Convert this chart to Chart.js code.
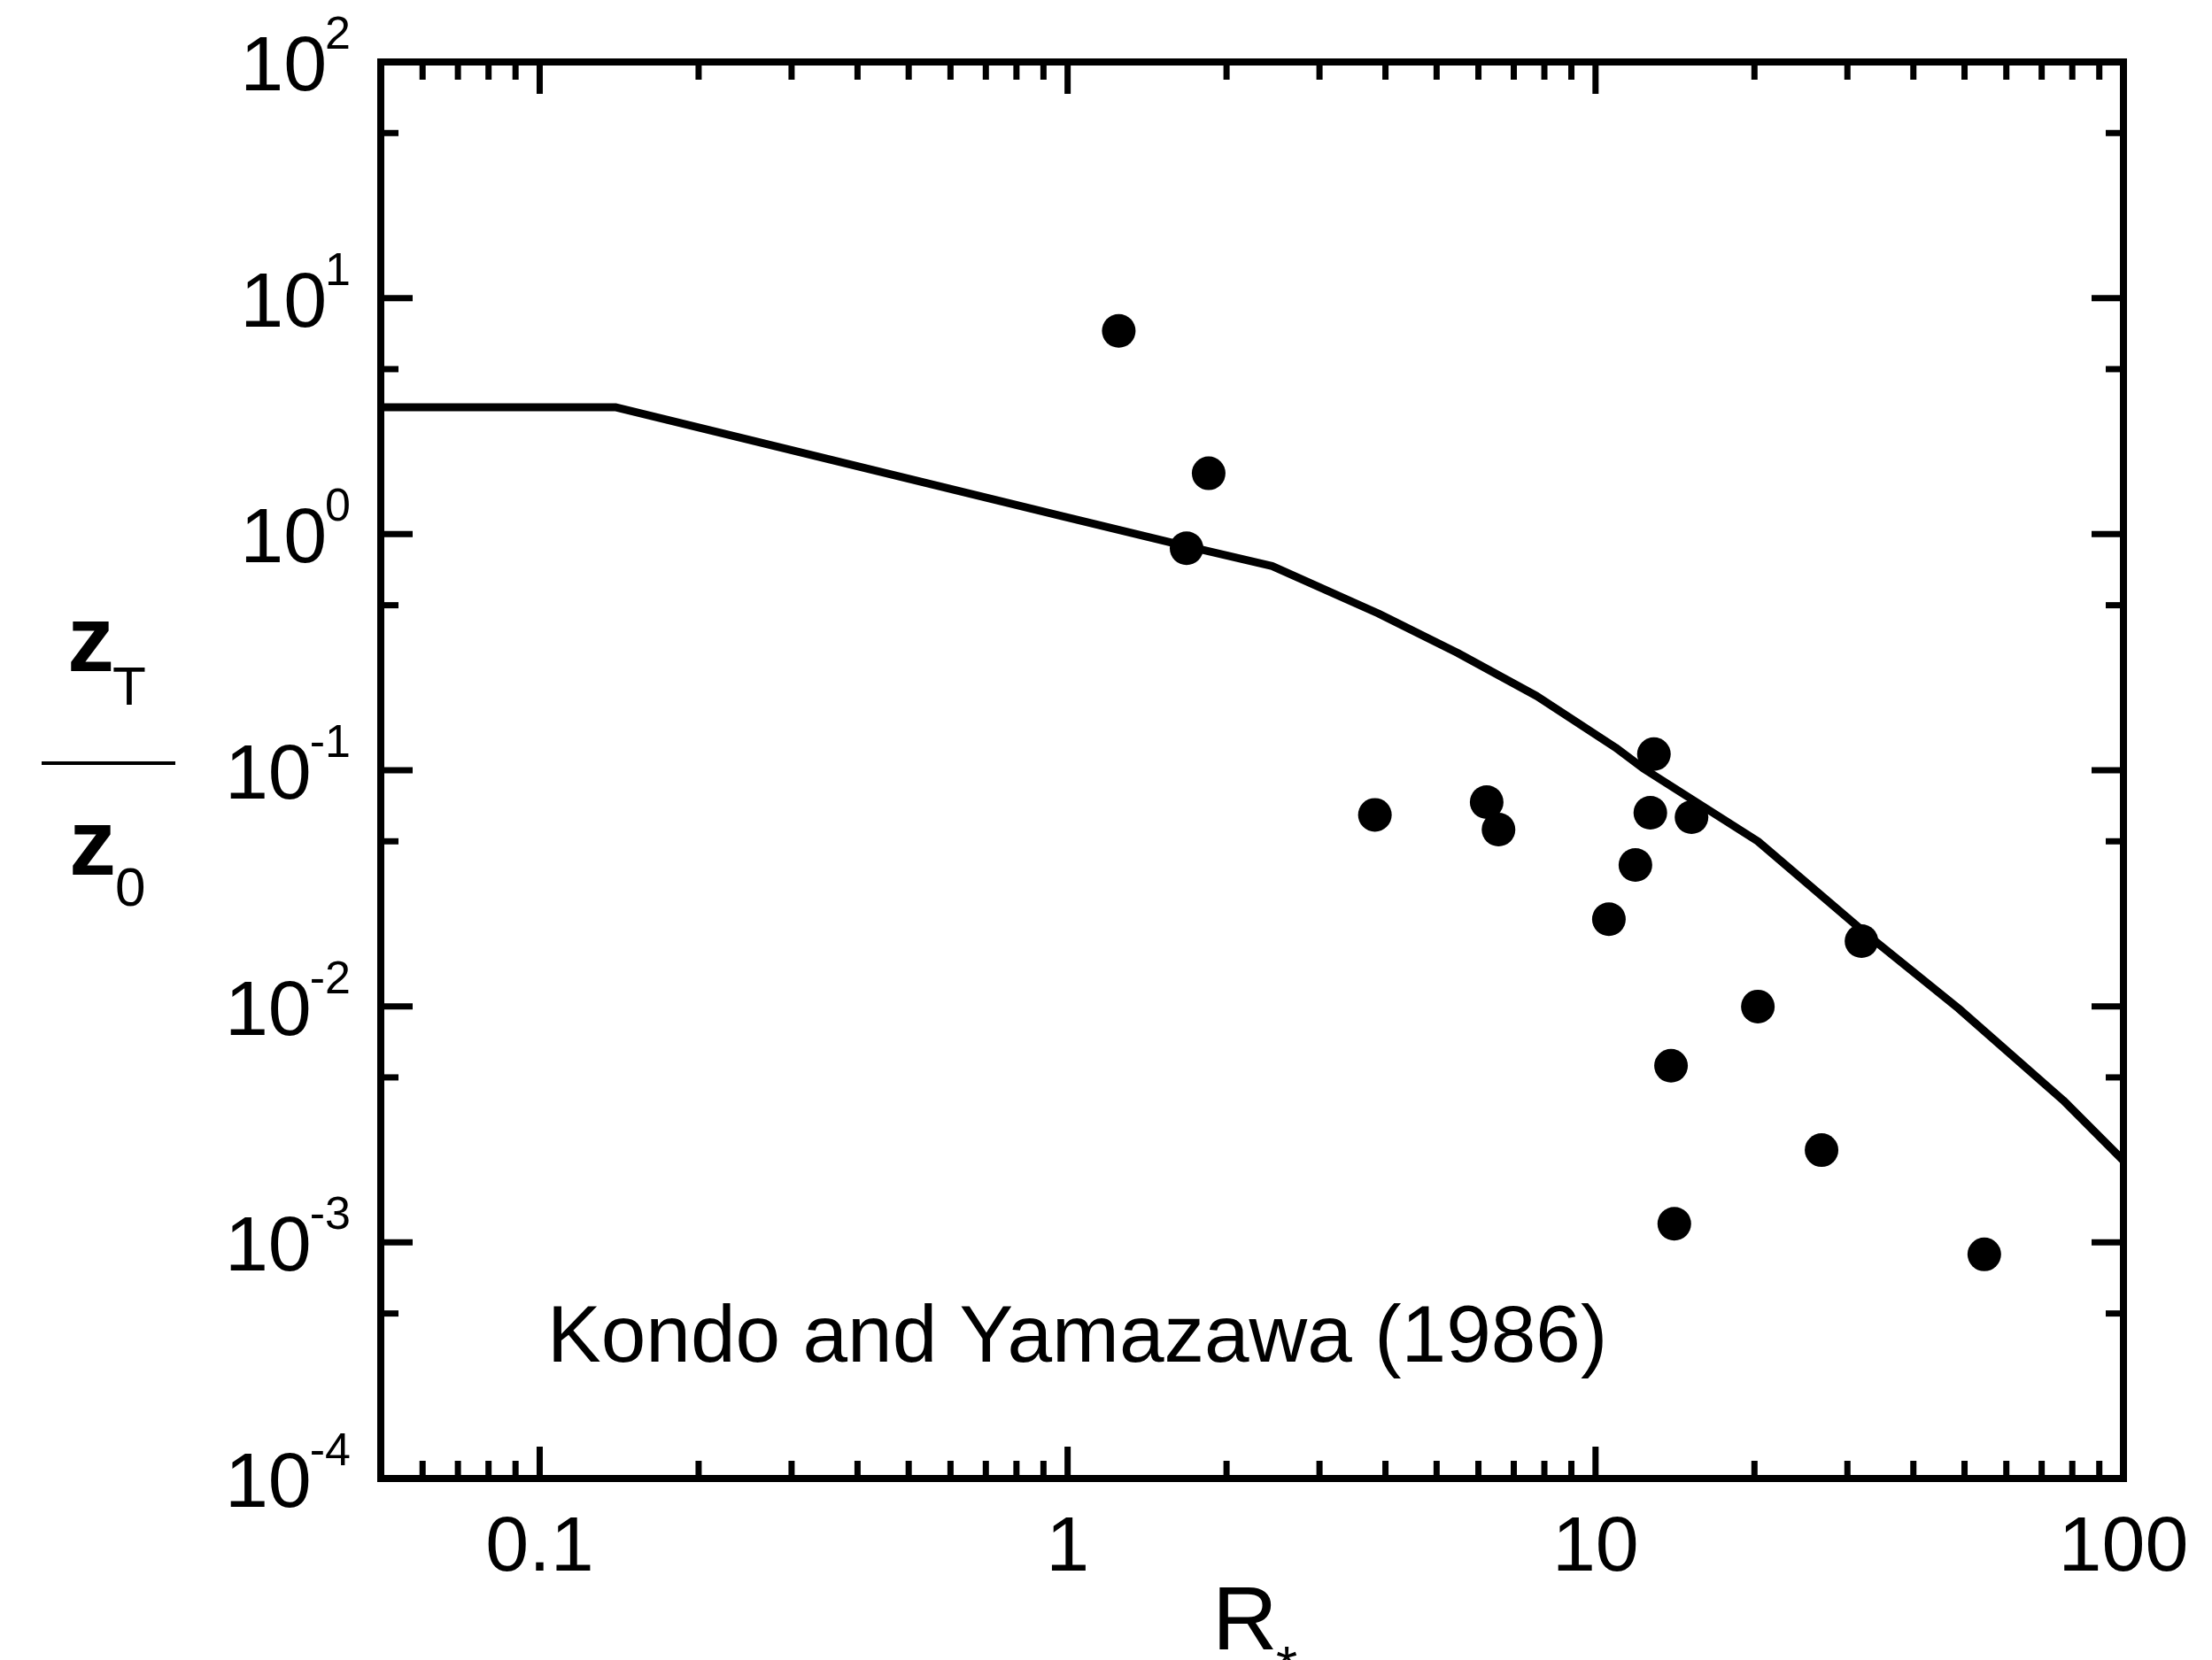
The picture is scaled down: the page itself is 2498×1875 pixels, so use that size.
<!DOCTYPE html>
<html>
<head>
<meta charset="utf-8">
<title>zT/z0 versus R*</title>
<script src="https://cdn.jsdelivr.net/npm/chart.js@4"></script>
<style>
  html, body { margin: 0; padding: 0; background: #fff; }
  #wrap { position: relative; width: 2498px; height: 1875px; }
</style>
</head>
<body>
<div id="wrap"><canvas id="chart"></canvas></div>
<script>
// model curve (Kondo and Yamazawa 1986)
const curveR = [0.05, 0.139, 0.978, 1.56, 2.44, 3.88, 5.48, 7.74, 10.9, 12.3, 20.3, 32.9, 48.7, 76.9, 100];
const curveZ = [3.45, 3.45, 1.19, 0.924, 0.733, 0.461, 0.314, 0.206, 0.125, 0.102, 0.050, 0.0199, 0.0098, 0.0040, 0.00222];

// observations
const obsR = [1.25, 1.85, 1.68, 3.82, 6.22, 6.55, 12.9, 12.7, 15.2, 11.9, 10.6, 31.9, 20.3, 13.9, 26.8, 14.1, 54.5];
const obsZ = [7.26, 1.81, 0.872, 0.0647, 0.0733, 0.0561, 0.117, 0.0661, 0.0633, 0.0397, 0.0234, 0.0189, 0.00998, 0.0056, 0.00246, 0.00120, 0.00089];

// axes
const xMin = 0.05, xMax = 100;
const yMin = 1e-4, yMax = 1e2;
const xTickValues = [0.1, 1, 10, 100];
const xTickLabels = ['0.1', '1', '10', '100'];
const yTickExponents = [2, 1, 0, -1, -2, -3, -4];
const yTickLabels = ['2', '1', '0', '-1', '-2', '-3', '-4'];
const annotation = 'Kondo and Yamazawa (1986)';

const FONT = '"Liberation Sans", Arial, Helvetica, sans-serif';

function toPoints(xs, ys) {
    return xs.map((v, i) => ({ x: v, y: ys[i] }));
}

const frameAndLabels = {
    id: 'frameAndLabels',
    afterDraw(chart) {
        const { ctx, chartArea: a, scales: { x, y } } = chart;
        ctx.save();
        ctx.strokeStyle = '#000';
        ctx.fillStyle = '#000';

        // inward ticks on all four sides
        ctx.lineWidth = 7;
        ctx.lineCap = 'butt';
        const line = (x1, y1, x2, y2) => {
            ctx.beginPath();
            ctx.moveTo(x1, y1);
            ctx.lineTo(x2, y2);
            ctx.stroke();
        };
        const major = 36, minor = 20;

        [0.01, 0.1, 1, 10].forEach(d => {
            for (let k = 1; k <= 9; k++) {
                const v = k * d;
                if (v <= xMin * 1.0001 || v >= xMax * 0.9999) continue;
                const px = x.getPixelForValue(v);
                const len = k === 1 ? major : minor;
                line(px, a.bottom, px, a.bottom - len);
                line(px, a.top, px, a.top + len);
            }
        });

        for (let e = -4; e <= 1; e++) {
            [1, 5].forEach(k => {
                const v = k * Math.pow(10, e);
                if (v <= yMin * 1.0001 || v >= yMax * 0.9999) return;
                const py = y.getPixelForValue(v);
                const len = k === 1 ? major : minor;
                line(a.left, py, a.left + len, py);
                line(a.right, py, a.right - len, py);
            });
        }

        // frame
        ctx.lineWidth = 8;
        ctx.lineCap = 'square';
        ctx.strokeRect(a.left, a.top, a.right - a.left, a.bottom - a.top);

        // x tick labels
        ctx.font = `88px ${FONT}`;
        ctx.textAlign = 'center';
        ctx.textBaseline = 'alphabetic';
        xTickValues.forEach((v, i) => {
            ctx.fillText(xTickLabels[i], x.getPixelForValue(v), a.bottom + 104);
        });

        // y tick labels: 10 with a raised exponent
        const rightEdge = a.left - 34;
        yTickExponents.forEach((e, i) => {
            const py = y.getPixelForValue(Math.pow(10, e));
            ctx.textAlign = 'left';
            ctx.font = `52px ${FONT}`;
            const supW = ctx.measureText(yTickLabels[i]).width;
            ctx.font = `88px ${FONT}`;
            const mainW = ctx.measureText('10').width;
            const supX = rightEdge - supW;
            ctx.fillText('10', supX - mainW + 2, py + 32);
            ctx.font = `52px ${FONT}`;
            ctx.fillText(yTickLabels[i], supX, py - 15);
        });

        // x title: R*
        ctx.textAlign = 'left';
        ctx.font = `102px ${FONT}`;
        ctx.fillText('R', 1369, 1863);
        ctx.font = `62px ${FONT}`;
        ctx.fillText('*', 1441, 1902);

        // y title: zT over z0
        ctx.font = `bold 106px ${FONT}`;
        ctx.fillText('z', 76, 758);
        ctx.fillText('z', 78, 988);
        ctx.font = `62px ${FONT}`;
        ctx.fillText('T', 127, 796);
        ctx.fillText('0', 130, 1023);
        ctx.lineWidth = 4;
        ctx.lineCap = 'butt';
        line(47, 862, 198, 862);

        // annotation
        ctx.font = `91px ${FONT}`;
        ctx.fillText(annotation, 618, 1538);

        ctx.restore();
    }
};

new Chart(document.getElementById('chart'), {
    type: 'scatter',
    data: {
        datasets: [
            {
                label: 'model',
                data: toPoints(curveR, curveZ),
                showLine: true,
                borderColor: '#000',
                borderWidth: 9,
                borderJoinStyle: 'round',
                pointRadius: 0,
                tension: 0,
                order: 2
            },
            {
                label: 'observed',
                data: toPoints(obsR, obsZ),
                showLine: false,
                backgroundColor: '#000',
                borderColor: '#000',
                borderWidth: 0,
                pointRadius: 19,
                pointHoverRadius: 19,
                order: 1
            }
        ]
    },
    options: {
        responsive: true,
        maintainAspectRatio: false,
        devicePixelRatio: 1,
        animation: false,
        events: [],
        layout: {
            padding: { left: 430, right: 100, top: 70, bottom: 205 }
        },
        plugins: {
            legend: { display: false },
            tooltip: { enabled: false }
        },
        scales: {
            x: {
                type: 'logarithmic',
                min: xMin,
                max: xMax,
                display: false
            },
            y: {
                type: 'logarithmic',
                min: yMin,
                max: yMax,
                display: false
            }
        }
    },
    plugins: [frameAndLabels]
});
</script>
</body>
</html>
